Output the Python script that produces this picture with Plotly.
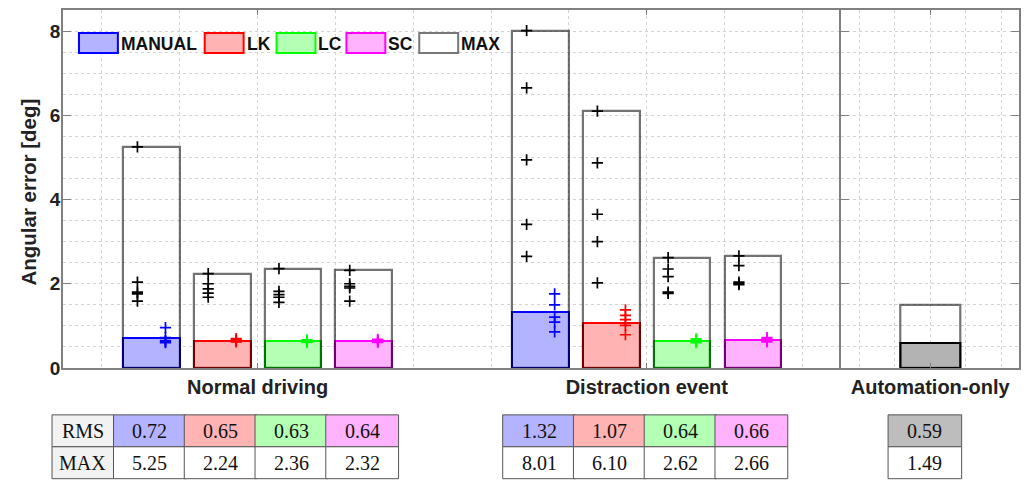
import plotly.graph_objects as go

# ---- data -------------------------------------------------------------
groups = ["Normal driving", "Distraction event"]
auto_label = "Automation-only"
systems = ["MANUAL", "LK", "LC", "SC"]

rms_normal = [0.72, 0.65, 0.63, 0.64]
max_normal = [5.25, 2.24, 2.36, 2.32]
rms_distraction = [1.32, 1.07, 0.64, 0.66]
max_distraction = [8.01, 6.10, 2.62, 2.66]
rms_auto = [0.59]
max_auto = [1.49]

# per-subject values (one list per system)
subj_max_normal = [
    [5.25, 2.04, 1.80, 1.76, 1.59],
    [2.24, 2.00, 1.88, 1.78, 1.68],
    [2.36, 1.82, 1.74, 1.68, 1.56],
    [2.32, 2.00, 1.94, 1.90, 1.59],
]
subj_rms_normal = [
    [0.96, 0.72, 0.65, 0.62, 0.60],
    [0.70, 0.67, 0.65, 0.63, 0.62],
    [0.67, 0.65, 0.63, 0.62, 0.61],
    [0.68, 0.66, 0.64, 0.63, 0.61],
]
subj_max_distraction = [
    [8.01, 6.65, 4.94, 3.41, 2.65],
    [6.10, 4.87, 3.65, 3.00, 2.02],
    [2.62, 2.35, 2.17, 1.80, 1.77],
    [2.66, 2.43, 2.04, 2.01, 1.98],
]
subj_rms_distraction = [
    [1.76, 1.50, 1.21, 1.09, 0.86],
    [1.38, 1.25, 1.15, 1.01, 0.79],
    [0.69, 0.66, 0.64, 0.62, 0.60],
    [0.72, 0.70, 0.66, 0.64, 0.62],
]

# ---- styling ----------------------------------------------------------
edge_colors = ["#0000ff", "#ff0000", "#00ff00", "#ff00ff"]
fill_colors = ["#b3b3ff", "#ffb3b3", "#b3ffb3", "#ffb3ff"]
max_edge = "rgba(0,0,0,0.55)"
auto_fill = "#b3b3b3"
auto_table_fill = "#bdbdbd"

W, H = 1029, 481
ML, MR, MT, MB = 63, 8, 9, 113
PW, PH = W - ML - MR, H - MT - MB
SPLIT = (843 - ML) / PW          # left/right subplot boundary (paper)

n = len(systems)
group_w = min(0.8, n / (n + 1.5))
step = group_w / n
offsets = [(i - (n - 1) / 2) * step for i in range(n)]
bar_w = step * 0.8
cross_dx = 0.036
auto_bar_w = 0.34
sans = "Liberation Sans, Arial, sans-serif"

fig = go.Figure()

# RMS bars (filled)
for i, name in enumerate(systems):
    fig.add_trace(go.Bar(
        x=[1 + offsets[i], 2 + offsets[i]],
        y=[rms_normal[i], rms_distraction[i]],
        width=bar_w, name=name, showlegend=False,
        marker=dict(color=fill_colors[i], line=dict(color=edge_colors[i], width=2)),
        xaxis="x", yaxis="y",
    ))
fig.add_trace(go.Bar(
    x=[1], y=rms_auto, width=auto_bar_w, showlegend=False,
    marker=dict(color=auto_fill, line=dict(color="#000000", width=2)),
    xaxis="x2", yaxis="y2",
))

# MAX bars (outline only, drawn on top)
max_x = [g + off for g in (1, 2) for off in offsets]
max_y = max_normal + max_distraction
fig.add_trace(go.Bar(
    x=max_x, y=max_y, width=bar_w, name="MAX", showlegend=False,
    marker=dict(color="rgba(0,0,0,0)", line=dict(color=max_edge, width=2.2)),
    xaxis="x", yaxis="y",
))
fig.add_trace(go.Bar(
    x=[1], y=max_auto, width=auto_bar_w, showlegend=False,
    marker=dict(color="rgba(0,0,0,0)", line=dict(color=max_edge, width=2.2)),
    xaxis="x2", yaxis="y2",
))

# per-subject markers
for gi, (smax, srms) in enumerate([(subj_max_normal, subj_rms_normal),
                                   (subj_max_distraction, subj_rms_distraction)]):
    for i in range(n):
        xc = gi + 1 + offsets[i]
        fig.add_trace(go.Scatter(
            x=[xc - cross_dx] * len(smax[i]), y=smax[i], mode="markers",
            showlegend=False, hoverinfo="y",
            marker=dict(symbol="cross-thin", size=8, line=dict(color="#000000", width=1.7)),
            xaxis="x", yaxis="y",
        ))
        fig.add_trace(go.Scatter(
            x=[xc + cross_dx] * len(srms[i]), y=srms[i], mode="markers",
            showlegend=False, hoverinfo="y",
            marker=dict(symbol="cross-thin", size=8, line=dict(color=edge_colors[i], width=1.7)),
            xaxis="x", yaxis="y",
        ))

# ---- axes -------------------------------------------------------------
axis_line = "#808080"
grid_col = "#d4d4d4"
xtick_font = dict(family=sans, size=20, color="#222222", weight="bold")
ytick_font = dict(family=sans, size=19, color="#222222", weight="bold")

common_x = dict(
    showline=True, linecolor=axis_line, linewidth=1.5, mirror="ticks",
    ticks="inside", ticklen=5, tickcolor=axis_line, tickwidth=1,
    showgrid=True, gridcolor=grid_col, griddash="dot", gridwidth=1,
    minor=dict(dtick=0.2, tick0=0, showgrid=True, gridcolor=grid_col,
               griddash="dot", gridwidth=1, ticks=""),
    zeroline=False, tickfont=xtick_font, fixedrange=True,
)
common_y = dict(
    range=[0, 8.5], showline=True, linecolor=axis_line, linewidth=1.5,
    ticks="inside", ticklen=8, tickcolor=axis_line, tickwidth=1,
    tickvals=[0, 2, 4, 6, 8],
    showgrid=True, gridcolor=grid_col, griddash="dot", gridwidth=1,
    minor=dict(dtick=0.5, showgrid=True, gridcolor=grid_col, griddash="dot",
               gridwidth=1, ticks=""),
    zeroline=False, fixedrange=True,
)

fig.update_layout(
    width=W, height=H,
    margin=dict(l=ML, r=MR, t=MT, b=MB),
    paper_bgcolor="white", plot_bgcolor="white",
    barmode="overlay", bargap=0, showlegend=False,
    xaxis=dict(domain=[0, SPLIT], range=[0.5, 2.5], tickvals=[1, 2],
               ticktext=groups, anchor="y", **common_x),
    xaxis2=dict(domain=[SPLIT, 1], range=[0.5, 1.5], tickvals=[1],
                ticktext=[auto_label], anchor="y2", **common_x),
    yaxis=dict(anchor="x", mirror=False, tickfont=ytick_font, ticklabelstandoff=-3,
               **common_y),
    yaxis2=dict(anchor="x2", matches="y", mirror="ticks", showticklabels=False,
                **common_y),
)

# ---- pixel helpers for annotations ------------------------------------
def py(p):  # pixel row -> paper y
    return (H - MB - p) / PH

def pxp(p):  # pixel column -> paper x
    return (p - ML) / PW

# y-axis title
fig.add_annotation(xref="paper", yref="paper", x=pxp(28), y=py(192),
                   text="<b>Angular error [deg]</b>", textangle=-90, showarrow=False,
                   xanchor="center", yanchor="middle",
                   font=dict(family=sans, size=20.5, color="#222222"))

# ---- legend (large swatches) ------------------------------------------
legend_names = systems + ["MAX"]
legend_fill = fill_colors + ["rgba(255,255,255,0)"]
legend_edge = edge_colors + ["#777777"]
legend_left = [79, 205, 277, 347, 420]
for name, fc, ec, left in zip(legend_names, legend_fill, legend_edge, legend_left):
    fig.add_shape(type="rect", xref="paper", yref="paper",
                  x0=pxp(left), x1=pxp(left + 39), y0=py(52), y1=py(32),
                  fillcolor=fc, line=dict(color=ec, width=2), layer="above")
    fig.add_annotation(xref="paper", yref="paper", x=pxp(left + 40), y=py(43),
                       text=f"<b>{name}</b>", showarrow=False,
                       xanchor="left", yanchor="middle",
                       font=dict(family=sans, size=17.5, color="#111111"))

# ---- value tables below each group ------------------------------------
def x1_paper(x):
    return SPLIT * (x - 0.5) / 2.0

def x2_paper(x):
    return SPLIT + (1 - SPLIT) * (x - 0.5)

row_top, row_mid, row_bot = py(415), py(447), py(479)
cell_font = dict(family="Liberation Serif, Cambria, serif", size=20, color="#111111")
border = dict(color="#555555", width=1)

def add_cell(x0, x1, y0, y1, text, fill):
    fig.add_shape(type="rect", xref="paper", yref="paper",
                  x0=x0, x1=x1, y0=y0, y1=y1, fillcolor=fill, line=border)
    fig.add_annotation(xref="paper", yref="paper", x=(x0 + x1) / 2, y=(y0 + y1) / 2,
                       text=text, showarrow=False, xanchor="center", yanchor="middle",
                       font=cell_font)

cell_half = 0.0935
for gi, (rms_vals, max_vals) in enumerate([(rms_normal, max_normal),
                                           (rms_distraction, max_distraction)]):
    for i in range(n):
        xc = gi + 1 + offsets[i] - 0.004
        x0, x1 = x1_paper(xc - cell_half), x1_paper(xc + cell_half)
        add_cell(x0, x1, row_mid, row_top, f"{rms_vals[i]:.2f}", fill_colors[i])
        add_cell(x0, x1, row_bot, row_mid, f"{max_vals[i]:.2f}", "white")
    if gi == 0:
        hx1 = x1_paper(1 + offsets[0] - 0.004 - cell_half)
        hx0 = pxp(52)
        add_cell(hx0, hx1, row_mid, row_top, "RMS", "#f2f2f2")
        add_cell(hx0, hx1, row_bot, row_mid, "MAX", "#f2f2f2")

auto_half = 0.207
ax0, ax1 = x2_paper(1 - 0.03 - auto_half), x2_paper(1 - 0.03 + auto_half)
add_cell(ax0, ax1, row_mid, row_top, f"{rms_auto[0]:.2f}", auto_table_fill)
add_cell(ax0, ax1, row_bot, row_mid, f"{max_auto[0]:.2f}", "white")

fig.write_html("out.html")
